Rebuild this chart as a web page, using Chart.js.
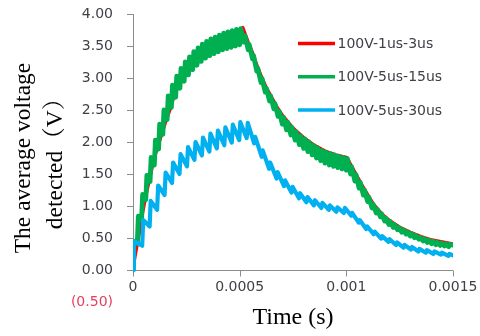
<!DOCTYPE html>
<html><head><meta charset="utf-8">
<script src="https://cdn.jsdelivr.net/npm/chart.js@4.4.1/dist/chart.umd.min.js"></script>
<style>html,body{margin:0;padding:0;background:#fff;}#wrap{width:480px;height:336px;}</style>
</head><body><div id="wrap"><canvas id="c" width="480" height="336"></canvas></div>
<script>
// ---- data (time in microseconds, voltage in V) ----
const seriesNames = ['100V-1us-3us', '100V-5us-15us', '100V-5us-30us'];
const seriesColors = ['#FF0000', '#00B050', '#00B0F0'];
const xTickValues = [0, 0.0005, 0.001, 0.0015];
const xTickLabels = ['0', '0.0005', '0.001', '0.0015'];
const yTickValues = [-0.5, 0, 0.5, 1, 1.5, 2, 2.5, 3, 3.5, 4];
const yTickLabels = ['(0.50)', '0.00', '0.50', '1.00', '1.50', '2.00', '2.50', '3.00', '3.50', '4.00'];
const xTitle = 'Time (s)';
const yTitle = ['The average voltage', 'detected（V）'];

const redTimeUs = [0,10,20,30,40,60,80,100,125,150,175,200,250,300,350,400,450,500,515,540,560,580,600,625,650,675,700,750,800,850,900,950,1000,1005,1020,1040,1060,1080,1100,1125,1150,1175,1200,1250,1300,1350,1400,1450,1500];
const redVolts = [0,0.22,0.40,0.58,0.80,1.15,1.45,1.75,2.02,2.28,2.52,2.80,3.10,3.30,3.45,3.56,3.65,3.72,3.79,3.56,3.40,3.21,3.04,2.85,2.70,2.55,2.42,2.22,2.07,1.95,1.86,1.80,1.76,1.75,1.65,1.53,1.41,1.29,1.18,1.04,0.94,0.85,0.78,0.67,0.59,0.525,0.47,0.44,0.41];

const greenTimeUs = [0,5,20,25,40,45,60,65,80,85,100,105,120,125,140,145,160,165,180,185,200,205,220,225,240,245,260,265,280,285,300,305,320,325,340,345,360,365,380,385,400,405,420,425,440,445,460,465,480,485,500,505,520,525,540,545,560,565,580,585,600,605,620,625,640,645,660,665,680,685,700,705,720,725,740,745,760,765,780,785,800,805,820,825,840,845,860,865,880,885,900,905,920,925,940,945,960,965,980,985,1000,1005,1020,1025,1040,1045,1060,1065,1080,1085,1100,1105,1120,1125,1140,1145,1160,1165,1180,1185,1200,1205,1220,1225,1240,1245,1260,1265,1280,1285,1300,1305,1320,1325,1340,1345,1360,1365,1380,1385,1400,1405,1420,1425,1440,1445,1460,1465,1480,1485,1500];
const greenVolts = [0,0.45,0.42,0.84,0.78,1.18,1.10,1.48,1.38,1.76,1.64,2.03,1.89,2.28,2.12,2.50,2.35,2.72,2.54,2.89,2.70,3.03,2.84,3.15,2.95,3.25,3.05,3.33,3.13,3.41,3.20,3.47,3.26,3.53,3.31,3.57,3.35,3.61,3.38,3.64,3.41,3.67,3.44,3.70,3.46,3.72,3.48,3.74,3.50,3.76,3.52,3.77,3.56,3.66,3.44,3.52,3.30,3.35,3.11,3.15,2.93,2.99,2.78,2.84,2.64,2.72,2.52,2.60,2.40,2.48,2.28,2.39,2.19,2.31,2.11,2.23,2.03,2.16,1.96,2.10,1.90,2.05,1.85,2.00,1.80,1.95,1.75,1.91,1.71,1.87,1.67,1.84,1.64,1.82,1.62,1.80,1.60,1.78,1.58,1.76,1.56,1.74,1.50,1.61,1.39,1.49,1.28,1.37,1.17,1.25,1.07,1.14,0.97,1.03,0.89,0.95,0.83,0.88,0.765,0.81,0.71,0.76,0.665,0.71,0.63,0.67,0.59,0.63,0.56,0.60,0.53,0.57,0.505,0.54,0.48,0.51,0.455,0.49,0.43,0.47,0.41,0.45,0.395,0.435,0.385,0.42,0.375,0.41,0.365,0.40,0.39];

const blueTimeUs = [0,4,43,48,78,83,113,118,148,153,183,188,218,223,253,258,288,293,323,328,358,363,393,398,428,433,463,468,498,503,533,538,568,573,603,608,638,643,673,678,708,713,743,748,778,783,813,818,848,853,883,888,918,923,953,958,988,993,1023,1028,1058,1063,1093,1098,1128,1133,1163,1168,1198,1203,1233,1238,1268,1273,1303,1308,1338,1343,1373,1378,1408,1413,1443,1448,1478,1483,1500];
const blueVolts = [0,0.45,0.38,0.78,0.68,1.08,0.94,1.32,1.17,1.52,1.36,1.68,1.50,1.81,1.62,1.92,1.72,2.00,1.79,2.07,1.85,2.13,1.90,2.18,1.95,2.23,1.99,2.27,2.03,2.31,2.06,2.30,1.98,2.08,1.77,1.87,1.58,1.68,1.43,1.53,1.31,1.40,1.21,1.30,1.12,1.20,1.06,1.14,1.01,1.09,0.97,1.05,0.94,1.01,0.91,0.98,0.89,0.97,0.85,0.89,0.74,0.78,0.64,0.68,0.56,0.60,0.49,0.53,0.44,0.48,0.39,0.43,0.35,0.39,0.32,0.36,0.29,0.33,0.27,0.31,0.25,0.29,0.24,0.27,0.22,0.25,0.23];

// ---- build ----
const toPoints = (ts, vs) => ts.map((t, i) => ({x: t / 1e6, y: vs[i]}));
const axisColor = '#8C8C8C';
const labelColor = '#404048';
const sansFont = "'DejaVu Sans', sans-serif";
const serifFont = "'Liberation Serif', 'Noto Serif CJK SC', 'Noto Sans CJK SC', serif";

const extras = {
  id: 'extras',
  beforeDatasetsDraw(chart) {
    const {ctx, chartArea, scales} = chart;
    const x0 = Math.round(chartArea.left) + 0.5;
    const y0 = Math.round(scales.y.getPixelForValue(0)) + 0.5;
    ctx.save();
    ctx.strokeStyle = axisColor;
    ctx.lineWidth = 1;
    ctx.beginPath();
    ctx.moveTo(x0, scales.y.getPixelForValue(yTickValues[yTickValues.length - 1]));
    ctx.lineTo(x0, y0);
    ctx.moveTo(chartArea.left, y0);
    ctx.lineTo(chartArea.right, y0);
    xTickValues.forEach(v => {
      const px = Math.round(scales.x.getPixelForValue(v)) + 0.5;
      ctx.moveTo(px, y0);
      ctx.lineTo(px, y0 + 6);
    });
    ctx.stroke();
    ctx.restore();
  },
  afterDraw(chart) {
    const {ctx, chartArea} = chart;
    ctx.save();
    chart.data.datasets.forEach((ds, i) => {
      const y = 43.5 + i * 33.3;
      ctx.strokeStyle = ds.borderColor;
      ctx.lineWidth = 3.5;
      ctx.beginPath();
      ctx.moveTo(298, y);
      ctx.lineTo(335, y);
      ctx.stroke();
      ctx.fillStyle = labelColor;
      ctx.font = '14px ' + sansFont;
      ctx.textBaseline = 'middle';
      ctx.textAlign = 'left';
      ctx.fillText(ds.label, 337.5, y + 1);
    });
    ctx.fillStyle = '#000';
    ctx.font = '24px ' + serifFont;
    ctx.textAlign = 'center';
    ctx.textBaseline = 'middle';
    ctx.fillText(xTitle, (chartArea.left + chartArea.right) / 2, 318);
    ctx.restore();
  }
};

new Chart(document.getElementById('c'), {
  type: 'line',
  data: {
    datasets: [
      {label: seriesNames[0], data: toPoints(redTimeUs, redVolts), borderColor: seriesColors[0], borderWidth: 3.2, order: 3},
      {label: seriesNames[1], data: toPoints(greenTimeUs, greenVolts), borderColor: seriesColors[1], borderWidth: 4.8, order: 2},
      {label: seriesNames[2], data: toPoints(blueTimeUs, blueVolts), borderColor: seriesColors[2], borderWidth: 4.2, order: 1}
    ]
  },
  options: {
    responsive: false,
    animation: false,
    devicePixelRatio: 1,
    layout: {padding: {top: 14, right: 27, bottom: 34, left: 0}, autoPadding: false},
    elements: {
      point: {radius: 0},
      line: {tension: 0, fill: false, borderJoinStyle: 'round', borderCapStyle: 'round'}
    },
    plugins: {legend: {display: false}, tooltip: {enabled: false}},
    scales: {
      x: {
        type: 'linear', min: 0, max: 0.0015, position: 'bottom',
        afterBuildTicks: s => { s.ticks = xTickValues.map(v => ({value: v})); },
        afterFit: s => { s.height = 0; s.paddingLeft = 0; s.paddingRight = 0; },
        ticks: {callback: (v, i) => xTickLabels[i], color: labelColor, font: {family: sansFont, size: 14}, mirror: true, padding: 6, maxRotation: 0, autoSkip: false},
        grid: {display: false},
        border: {display: false}
      },
      y: {
        type: 'linear', min: -0.5, max: 4, position: 'left',
        afterBuildTicks: s => { s.ticks = yTickValues.map(v => ({value: v})); },
        afterFit: s => { s.width = 133; s.paddingTop = 0; s.paddingBottom = 0; },
        ticks: {
          callback: (v, i) => yTickLabels[i],
          color: c => (c.tick && c.tick.value < 0) ? '#E5405E' : labelColor,
          font: {family: sansFont, size: 14}, padding: 14, autoSkip: false
        },
        grid: {drawOnChartArea: false, tickLength: 6, color: c => (c.tick && c.tick.value < 0) ? 'rgba(0,0,0,0)' : axisColor},
        border: {display: false},
        title: {display: true, text: yTitle, color: '#000', font: {family: serifFont, size: 23.5, lineHeight: 1.36}, padding: {top: 8, bottom: 0}}
      }
    }
  },
  plugins: [extras]
});
</script>
</body></html>
